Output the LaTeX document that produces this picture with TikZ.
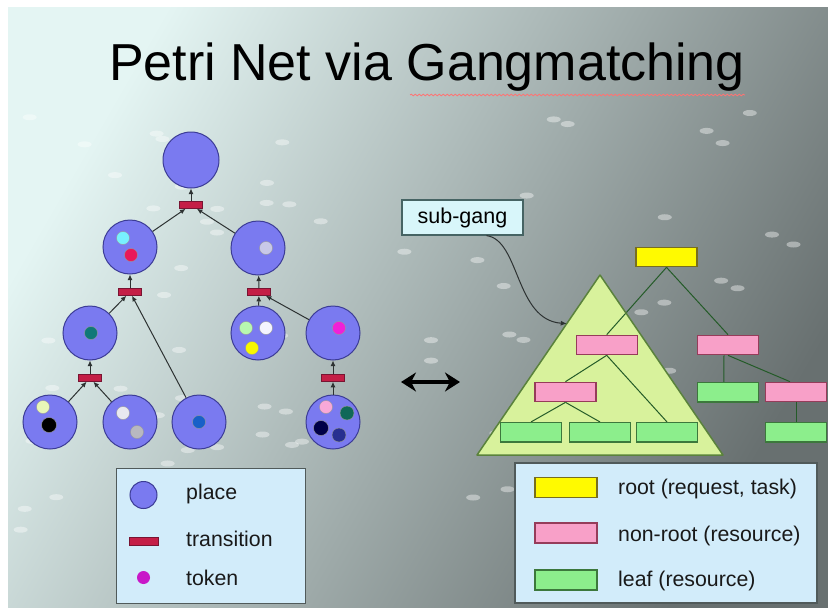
\documentclass[tikz,border=0pt]{standalone}
\usepackage{fontspec}
\setmainfont{Liberation Sans}
\usetikzlibrary{arrows.meta,decorations.pathmorphing,calc}

\definecolor{placefill}{RGB}{122,122,240}
\definecolor{placeborder}{RGB}{60,60,150}
\definecolor{transfill}{RGB}{196,30,70}
\definecolor{transborder}{RGB}{120,20,50}
\definecolor{arcc}{RGB}{45,50,50}
\definecolor{legfill}{RGB}{210,236,250}
\definecolor{legborder}{RGB}{80,90,90}
\definecolor{subfill}{RGB}{216,246,250}
\definecolor{subborder}{RGB}{70,100,100}
\definecolor{trifill}{RGB}{216,242,156}
\definecolor{triborder}{RGB}{90,130,60}
\definecolor{rootfill}{RGB}{255,250,0}
\definecolor{rootborder}{RGB}{120,110,30}
\definecolor{pinkfill}{RGB}{248,160,200}
\definecolor{pinkborder}{RGB}{150,60,90}
\definecolor{greenfill}{RGB}{140,238,140}
\definecolor{greenborder}{RGB}{60,120,60}
\definecolor{bgA}{RGB}{228,245,243}
\definecolor{bgB}{RGB}{186,198,198}
\definecolor{bgC}{RGB}{104,112,112}
\pgfdeclarelayer{back}
\pgfdeclarelayer{mid}
\pgfsetlayers{back,mid,main}

\begin{document}
\begin{tikzpicture}[x=1pt,y=-1pt,
  place/.style={circle, draw=placeborder, fill=placefill, minimum size=54, inner sep=0, line width=1},
  trans/.style={rectangle, draw=transborder, fill=transfill, minimum width=23, minimum height=7, inner sep=0, line width=0.6},
  tok/.style={circle, draw=black!40, line width=0.4, minimum size=13, inner sep=0},
  arc/.style={draw=arcc, line width=1, -{Latex[length=5.5,width=5]}},
  tline/.style={draw=arcc!80!green, line width=1},
  gbox/.style={rectangle, minimum width=61, minimum height=19.5, inner sep=0, line width=1.2},
  rootbox/.style={gbox, fill=rootfill, draw=rootborder},
  pinkbox/.style={gbox, fill=pinkfill, draw=pinkborder},
  greenbox/.style={gbox, fill=greenfill, draw=greenborder},
  legbox/.style={rectangle, fill=legfill, draw=legborder, line width=1.5, inner sep=0},
  legtext/.style={font=\fontsize{21.3}{24}\selectfont, text=black!90, inner sep=0, anchor=base west}
]
\useasboundingbox (0,0) rectangle (828,608);
\begin{pgfonlayer}{back}
\fill[white] (0,0) rectangle (828,608);
\shade[shading=axis, top color=bgA, middle color=bgB, bottom color=bgC, shading angle=60] (8,7) rectangle (828,608);
\pgfmathsetseed{11}
\foreach \i in {1,...,80}{
  \pgfmathsetmacro\sx{rnd*800+20}
  \pgfmathsetmacro\sy{rnd*480+110}
  \fill[white, opacity=0.4] (\sx,\sy) ellipse [x radius=7, y radius=3];
}
\end{pgfonlayer}

% title
\node[font=\fontsize{52}{60}\selectfont, anchor=base, inner sep=0] (title) at (427,80) {Petri Net via Gangmatching};
\draw[red!55!white, line width=0.8, decorate, decoration={snake, amplitude=0.8, segment length=4}] (410,95) -- (745,95);

% Petri net places
\node[place, minimum size=56] (P0) at (191,160) {};
\node[place] (P1) at (130,247) {};
\node[place] (P2) at (258,248) {};
\node[place] (P3) at (90,333) {};
\node[place] (P4) at (258,333) {};
\node[place] (P5) at (333,333) {};
\node[place] (P6) at (50,422) {};
\node[place] (P7) at (130,422) {};
\node[place] (P8) at (199,422) {};
\node[place] (P9) at (333,422) {};
% transitions
\node[trans] (T0) at (191,205) {};
\node[trans] (T1) at (130,292) {};
\node[trans] (T2) at (259,292) {};
\node[trans] (T3) at (90,378) {};
\node[trans] (T5) at (333,378) {};
% arcs
\draw[arc] (T0) -- (P0);
\draw[arc] (P1) -- (T0);
\draw[arc] (P2) -- (T0);
\draw[arc] (T1) -- (P1);
\draw[arc] (P3) -- (T1);
\draw[arc] (P8) -- (T1);
\draw[arc] (T2) -- (P2);
\draw[arc] (P4) -- (T2);
\draw[arc] (P5) -- (T2);
\draw[arc] (T3) -- (P3);
\draw[arc] (P6) -- (T3);
\draw[arc] (P7) -- (T3);
\draw[arc] (T5) -- (P5);
\draw[arc] (P9) -- (T5);
% tokens
\node[tok, fill={rgb,255:red,120;green,240;blue,255}] (k1a) at (123,238) {};
\node[tok, fill={rgb,255:red,232;green,24;blue,90}] (k1b) at (131,255) {};
\node[tok, fill={rgb,255:red,200;green,200;blue,232}] (k2a) at (266,248) {};
\node[tok, fill={rgb,255:red,16;green,120;blue,120}] (k3a) at (91,333) {};
\node[tok, fill={rgb,255:red,184;green,248;blue,176}] (k4a) at (246,328) {};
\node[tok, fill={rgb,255:red,244;green,244;blue,255}] (k4b) at (266,328) {};
\node[tok, fill={rgb,255:red,248;green,248;blue,0}] (k4c) at (252,348) {};
\node[tok, fill={rgb,255:red,240;green,32;blue,216}] (k5a) at (339,328) {};
\node[tok, fill={rgb,255:red,232;green,248;blue,184}] (k6a) at (43,407) {};
\node[tok, fill=black, minimum size=15] (k6b) at (49,425) {};
\node[tok, fill={rgb,255:red,232;green,232;blue,240}] (k7a) at (123,413) {};
\node[tok, fill={rgb,255:red,184;green,184;blue,192}] (k7b) at (137,432) {};
\node[tok, fill={rgb,255:red,24;green,96;blue,200}] (k8a) at (199,422) {};
\node[tok, fill={rgb,255:red,248;green,168;blue,216}] (k9a) at (326,407) {};
\node[tok, fill={rgb,255:red,16;green,104;blue,88}, minimum size=14] (k9b) at (347,413) {};
\node[tok, fill={rgb,255:red,0;green,0;blue,72}, minimum size=15] (k9c) at (321,428) {};
\node[tok, fill={rgb,255:red,40;green,48;blue,144}, minimum size=14] (k9d) at (339,435) {};

% double arrow
\coordinate (da1) at (401,382);
\coordinate (da2) at (460,382);
\draw[line width=4.5, {Stealth[length=15,width=19]}-{Stealth[length=15,width=19]}] (da1) -- (da2);

% sub-gang triangle and tree
\coordinate (triA) at (600,275);
\coordinate (triL) at (477,455);
\coordinate (triR) at (723,455);
\node[rootbox] (R) at (666.5,257) {};
\node[pinkbox] (A) at (606.7,345) {};
\node[pinkbox] (B) at (728,345) {};
\node[pinkbox] (C) at (565.5,392) {};
\node[pinkbox] (D) at (796,392) {};
\node[greenbox] (G4) at (727.8,392.3) {};
\node[greenbox] (G1) at (531,432.3) {};
\node[greenbox] (G2) at (600,432.3) {};
\node[greenbox] (G3) at (667,432.3) {};
\node[greenbox] (G5) at (796,432.3) {};
\begin{pgfonlayer}{mid}
\fill[trifill] (triA) -- (triL) -- (triR) -- cycle;
\draw[tline] (R.south) -- (A.north);
\draw[tline] (R.south) -- (B.north);
\draw[tline] (A.south) -- (C.north);
\draw[tline] (A.south) -- (G3.north);
\draw[tline] (C.south) -- (G1.north);
\draw[tline] (C.south) -- (G2.north);
\draw[tline] ([xshift=-4]B.south) -- ([xshift=-4]G4.north);
\draw[tline] (B.south) -- ([xshift=-6]D.north);
\draw[tline] (D.south) -- (G5.north);
\draw[triborder, line width=1.5, line join=round] (triA) -- (triL) -- (triR) -- cycle;
\end{pgfonlayer}

% sub-gang label
\node[rectangle, fill=subfill, draw=subborder, line width=1.2, minimum width=121, minimum height=35, inner sep=0, font=\fontsize{21.5}{24}\selectfont] (sg) at (462.5,217.5) {sub-gang};
\coordinate (sgend) at ($(triA)!0.27!(triL)$);
\draw[arcc, line width=1, -{Latex[length=6,width=5]}] ([xshift=24]sg.south) .. controls (520,240) and (515,320) .. (sgend);

% legends
\node[legbox, minimum width=189, minimum height=135] (legL) at (211,536) {};
\node[place, minimum size=27] (lgP) at (143.5,495) {};
\node[trans, minimum width=29, minimum height=8] (lgT) at (143.5,541) {};
\node[tok, fill={rgb,255:red,200;green,24;blue,200}, minimum size=13, draw=none] (lgK) at (143.5,577.5) {};
\node[legtext] (lgPt) at (186,499) {place};
\node[legtext] (lgTt) at (186,546) {transition};
\node[legtext] (lgKt) at (186,585) {token};

\node[legbox, minimum width=302, minimum height=140] (legR) at (666,533) {};
\node[rootbox, minimum width=62, minimum height=20] (lgR) at (566,487.5) {};
\node[pinkbox, minimum width=62, minimum height=20] (lgN) at (566,533) {};
\node[greenbox, minimum width=62, minimum height=20] (lgL) at (566,580) {};
\node[legtext] (lgRt) at (618,494) {root (request, task)};
\node[legtext] (lgNt) at (618,541) {non-root (resource)};
\node[legtext] (lgLt) at (618,586) {leaf (resource)};
\end{tikzpicture}
\end{document}
